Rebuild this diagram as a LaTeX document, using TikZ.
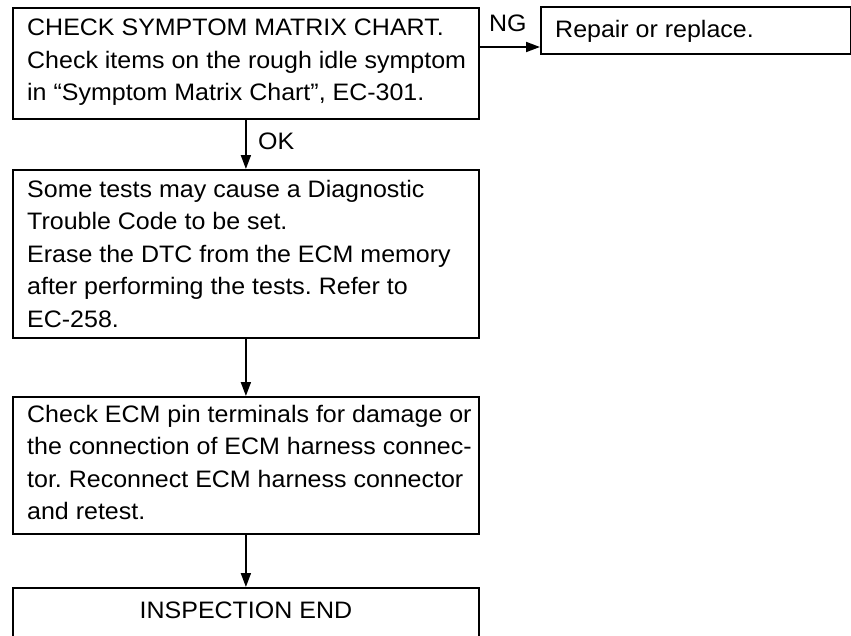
\documentclass[tikz,border=0pt]{standalone}
\usepackage{fontspec}
\setmainfont[FakeStretch=1.05]{Liberation Sans}
\usetikzlibrary{arrows.meta}
\frenchspacing
\tikzset{
  boxshape/.style={draw=black, line width=1.8pt, rectangle, inner sep=0pt, anchor=north west},
  txt/.style={inner sep=0pt, anchor=north west, align=left, font=\fontsize{23.8}{32.5}\selectfont},
  lbl/.style={inner sep=0pt, anchor=north west, font=\fontsize{23.8}{27}\selectfont},
  conn/.style={line width=1.8pt, -{Triangle[length=14pt,width=10pt]}},
}
\begin{document}
\frenchspacing
\begin{tikzpicture}[x=1pt,y=-1pt]
\useasboundingbox (0,0) rectangle (851,635);
\clip (0,0) rectangle (851,635);
% boxes
\node[boxshape, minimum width=466pt, minimum height=111pt] (b1) at (12,7) {};
\node[boxshape, minimum width=310pt, minimum height=47pt] (r) at (540,6) {};
\node[boxshape, minimum width=466pt, minimum height=168pt] (b2) at (12,169) {};
\node[boxshape, minimum width=466pt, minimum height=137pt] (b3) at (12,396) {};
\node[boxshape, minimum width=466pt, minimum height=80pt] (b4) at (12,587) {};
% texts
\node[txt] (t1) at ([shift={(15,12)}]b1.north west) {CHECK SYMPTOM MATRIX CHART.\\Check items on the rough idle symptom\\in ``Symptom Matrix Chart'', EC-301.};
\node[txt] (tr) at ([shift={(15,14)}]r.north west) {Repair or replace.};
\node[txt] (t2) at ([shift={(15,11)}]b2.north west) {Some tests may cause a Diagnostic\\Trouble Code to be set.\\Erase the DTC from the ECM memory\\after performing the tests. Refer to\\EC-258.};
\node[txt] (t3) at ([shift={(15,9)}]b3.north west) {Check ECM pin terminals for damage or\\the connection of ECM harness connec-\\tor. Reconnect ECM harness connector\\and retest.};
\node[txt, anchor=north] (t4) at ([shift={(0,15)}]b4.north) {INSPECTION END};
% connectors
\coordinate (ngs) at (b1.east |- 0,47);
\draw[conn] (ngs) -- (ngs -| r.west);
\draw[conn] (b1.south) -- (b2.north);
\draw[conn] (b2.south) -- (b3.north);
\draw[conn] (b3.south) -- (b4.north);
% labels
\node[lbl] (ng) at (489,15) {NG};
\node[lbl] (ok) at (258,133) {OK};
\end{tikzpicture}
\end{document}
